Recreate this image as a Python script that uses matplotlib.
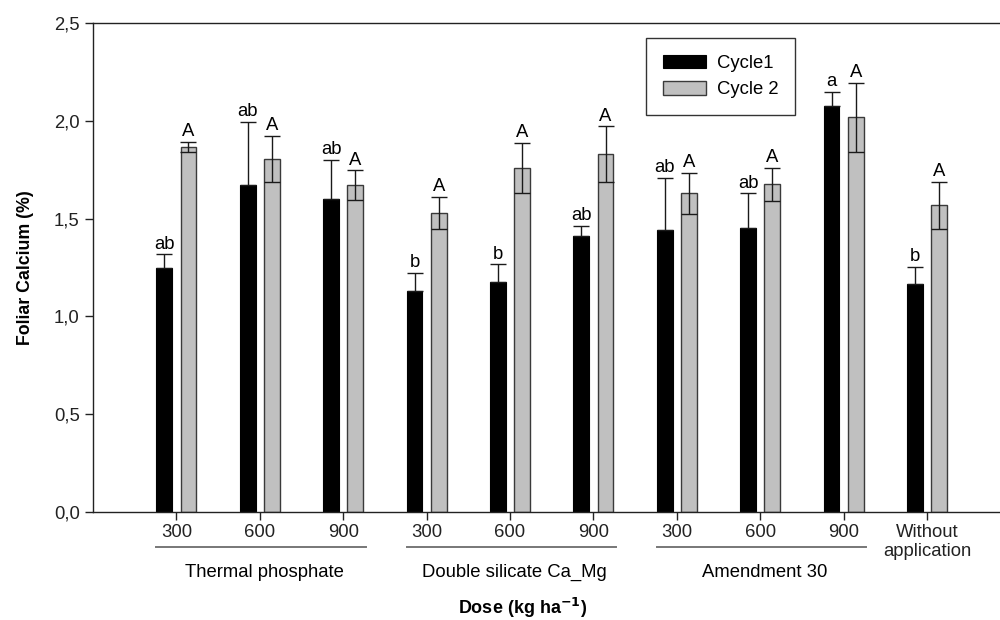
import numpy as np
import matplotlib.pyplot as plt
from matplotlib.ticker import FuncFormatter

plt.rcParams['font.family'] = ['Liberation Sans', 'DejaVu Sans']

# Data
doses = ["300", "600", "900", "300", "600", "900", "300", "600", "900", "Without\napplication"]
cycle1 = [1.246, 1.673, 1.600, 1.130, 1.177, 1.411, 1.442, 1.450, 2.076, 1.166]
cycle1_err = [0.071, 0.321, 0.201, 0.093, 0.089, 0.051, 0.267, 0.179, 0.073, 0.088]
cycle2 = [1.868, 1.805, 1.672, 1.530, 1.760, 1.829, 1.629, 1.675, 2.018, 1.568]
cycle2_err = [0.025, 0.117, 0.076, 0.082, 0.128, 0.144, 0.104, 0.085, 0.175, 0.121]
letters1 = ["ab", "ab", "ab", "b", "b", "ab", "ab", "ab", "a", "b"]
letters2 = ["A"] * 10
groups = ["Thermal phosphate", "Double silicate Ca_Mg", "Amendment 30"]
group_span = [(1, 3), (4, 6), (7, 9)]

x = np.arange(1, len(doses) + 1)
w = 0.19
off = 0.145
fs = 13.3

fig = plt.figure(figsize=(10, 6.2), dpi=100)
ax = fig.add_axes([0.093, 0.1742, 0.907, 0.7887])

err_kw = dict(ecolor="#1a1a1a", elinewidth=1.0, capsize=5.8, capthick=1.0)
# cycle 1 only shows the upper half of its error bar
ax.bar(x - off, cycle1, w, color="black", edgecolor="black", linewidth=0.8,
       yerr=[np.zeros(len(cycle1_err)), cycle1_err], error_kw=err_kw, label="Cycle1", zorder=2)
ax.bar(x + off, cycle2, w, color="#c0c0c0", edgecolor="#3a3a3a", linewidth=1.0,
       yerr=cycle2_err, error_kw=err_kw, label="Cycle 2", zorder=2)

# significance letters
for xi, v, e, t in zip(x - off, cycle1, cycle1_err, letters1):
    ax.text(xi, v + e + 0.008, t, ha="center", va="bottom", fontsize=fs)
for xi, v, e, t in zip(x + off, cycle2, cycle2_err, letters2):
    ax.text(xi, v + e + 0.008, t, ha="center", va="bottom", fontsize=fs)

ax.set_xlim(0, 10.875)
ax.set_ylim(0, 2.5)
ax.set_yticks([0, 0.5, 1.0, 1.5, 2.0, 2.5])
ax.yaxis.set_major_formatter(FuncFormatter(lambda v, p: f"{v:.1f}".replace(".", ",")))
ax.set_xticks(x)
ax.set_xticklabels(doses, fontsize=fs, linespacing=1.1)
ax.tick_params(axis="both", direction="out", length=6, width=1, labelsize=fs, colors="#222222")
ax.tick_params(axis="x", pad=3)
ax.spines["right"].set_visible(False)
for s in ["left", "bottom", "top"]:
    ax.spines[s].set_linewidth(1.0)
    ax.spines[s].set_color("#222222")

# group underlines and labels
trans = ax.get_xaxis_transform()
for name, (a, b) in zip(groups, group_span):
    ax.plot([a - 0.24, b + 0.27], [-0.071, -0.071], transform=trans, color="#777777",
            linewidth=1.4, clip_on=False)
    ax.text((a + b) / 2 + 0.05, -0.124, name, transform=trans, ha="center", va="center",
            fontsize=fs)

ax.set_ylabel("Foliar Calcium (%)", fontsize=12.8, fontweight="bold", labelpad=14)
ax.text(0.4736, -0.196, "Dose (kg ha$^{\\mathbf{-1}}$)", transform=ax.transAxes, ha="center",
        va="center", fontsize=13, fontweight="bold")

leg = ax.legend(loc="upper left", bbox_to_anchor=(0.6097, 0.969), borderaxespad=0,
                fontsize=fs, frameon=True, fancybox=False, edgecolor="black",
                handlelength=2.35, handleheight=0.75, borderpad=0.9, labelspacing=0.5,
                handletextpad=0.6)
leg.get_frame().set_linewidth(1.0)

fig.savefig("out.png", dpi=100)
